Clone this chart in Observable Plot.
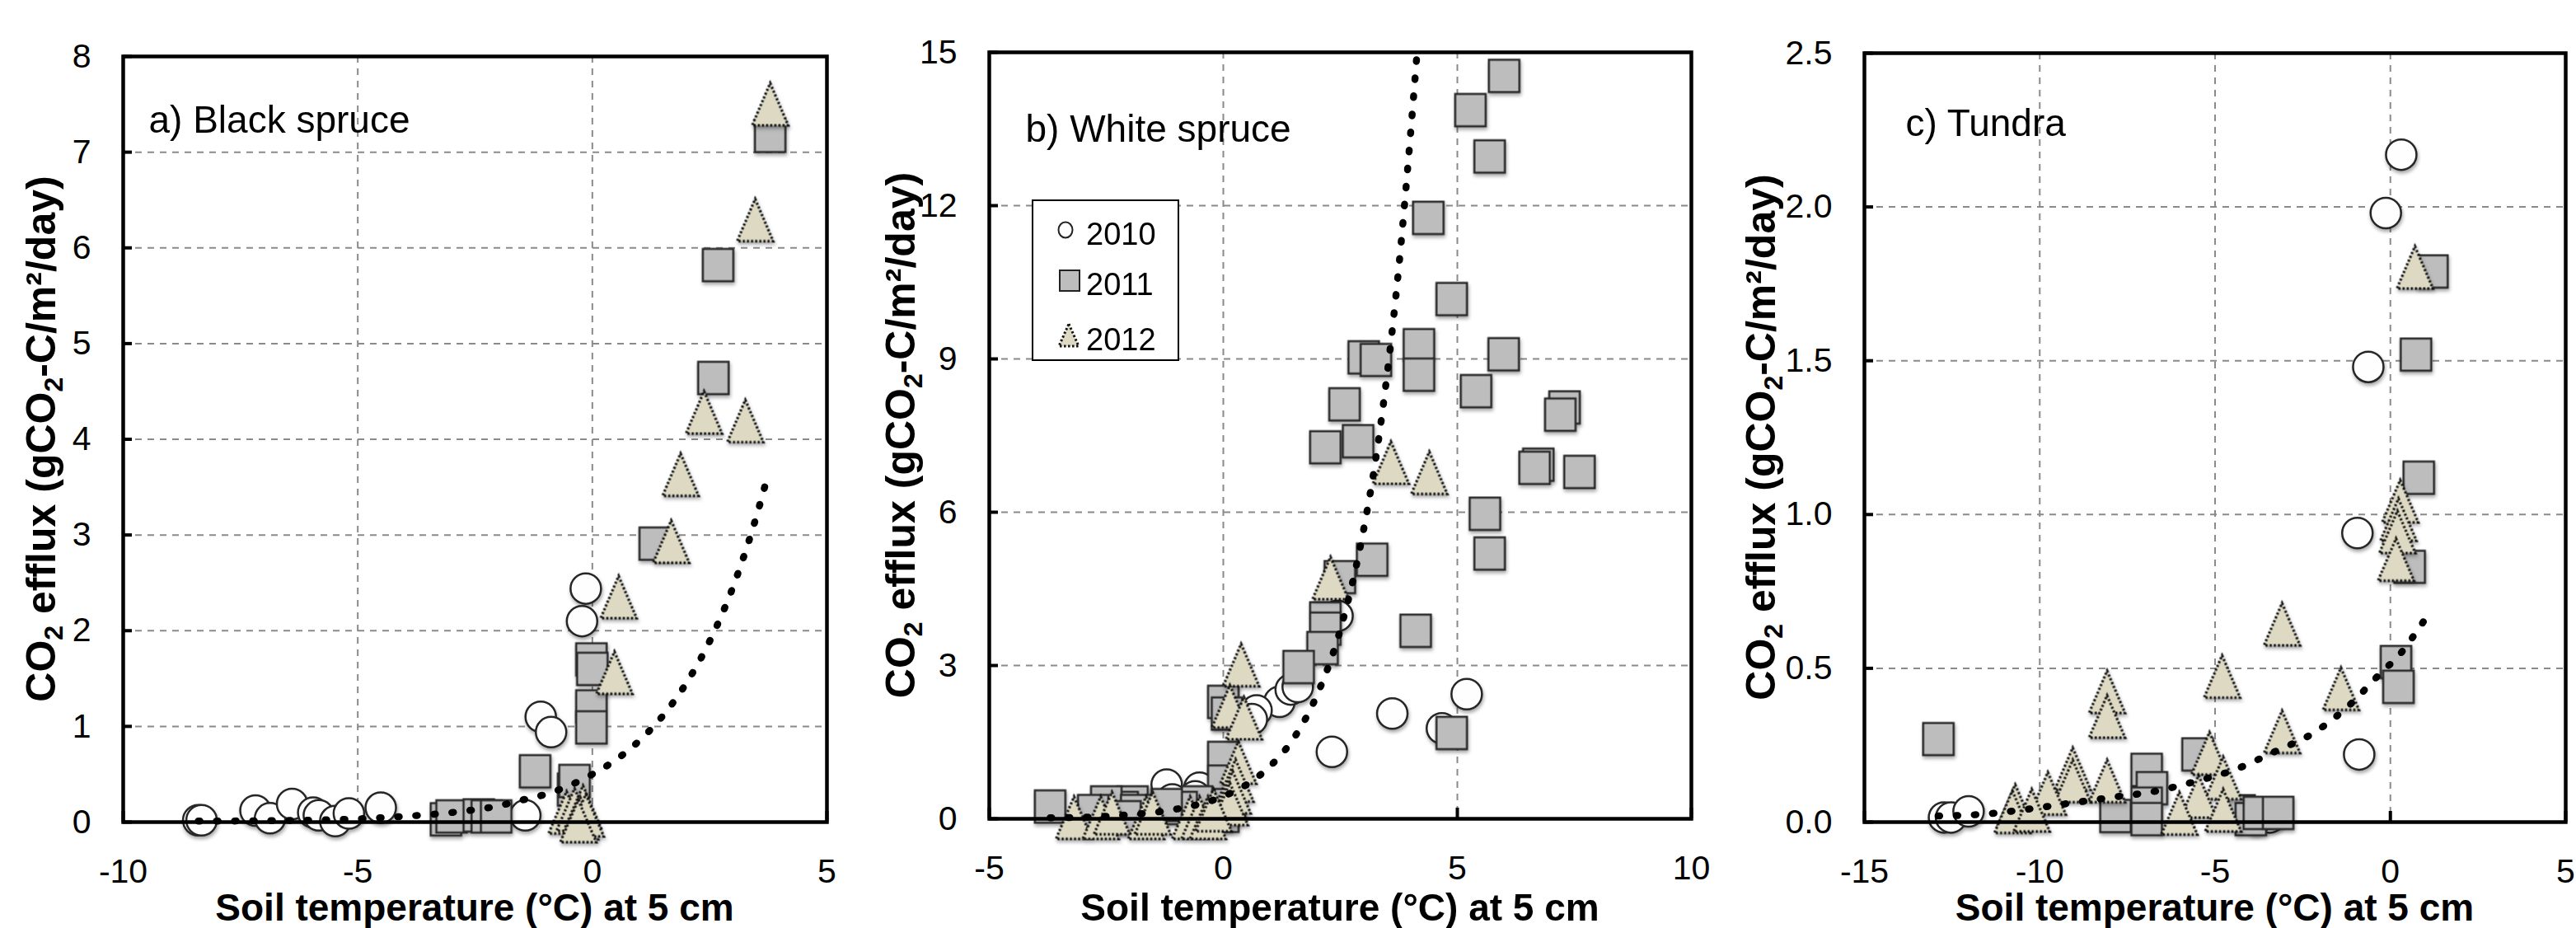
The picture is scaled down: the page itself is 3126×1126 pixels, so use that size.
<!DOCTYPE html>
<html>
<head>
<meta charset="utf-8">
<script src="https://cdn.jsdelivr.net/npm/d3@7"></script>
<script src="https://cdn.jsdelivr.net/npm/@observablehq/plot@0.6"></script>
<style>
  html, body { margin: 0; padding: 0; background: #fff; }
  #chart { position: relative; width: 3126px; height: 1126px; background: #fff; overflow: hidden; }
  .panel { position: absolute; top: 0; }
</style>
</head>
<body>
<div id="chart"></div>
<script>
// ---------------- DATA ----------------
// a) Black spruce
const a2010 = [[-8.40,0.02],[-8.33,0.02],[-7.18,0.12],[-6.87,0.04],[-6.40,0.19],[-5.95,0.10],[-5.83,0.07],[-5.48,0.01],[-5.19,0.09],[-4.51,0.15],[-1.43,0.07],[-1.10,1.10],[-0.88,0.94],[-0.14,2.44],[-0.22,2.10]];
const a2011 = [[-3.12,0.03],[-3.00,0.06],[-2.42,0.07],[-2.25,0.06],[-2.05,0.06],[-1.22,0.53],[-0.41,0.34],[-0.38,0.43],[-0.02,1.70],[0.00,1.60],[-0.02,1.21],[-0.02,0.99],[1.33,2.91],[2.58,4.64],[2.68,5.82],[3.79,7.17]];
const a2012 = [[3.79,7.49],[3.47,6.28],[2.38,4.27],[3.26,4.18],[1.88,3.62],[1.68,2.92],[0.56,2.34],[0.47,1.55],[-0.55,0.09],[-0.38,0.12],[-0.20,0.15],[-0.26,0.03],[-0.14,0.06],[-0.30,0.00]];
const aFit  = [[-8.4,0.01],[-6,0.02],[-4,0.06],[-3,0.10],[-2,0.17],[-1.5,0.23],[-1,0.29],[-0.5,0.38],[0,0.50],[0.5,0.65],[1,0.85],[1.5,1.11],[2,1.45],[2.5,1.89],[3,2.46],[3.5,3.20],[3.7,3.55]];

// b) White spruce
const b2010 = [[1.20,2.29],[1.44,2.53],[1.59,2.58],[3.61,2.06],[5.20,2.44],[4.67,1.77],[2.32,1.31],[2.44,3.97],[0.71,2.12],[0.61,1.95],[-1.21,0.67],[-0.51,0.61],[-0.60,0.44],[-1.09,0.38],[-1.27,0.27],[0.02,0.85]];
const b2011 = [[6.00,14.54],[5.28,13.87],[5.69,12.96],[4.38,11.76],[4.88,10.17],[5.99,9.09],[4.18,9.27],[4.18,8.69],[3.00,9.03],[3.26,8.98],[5.40,8.37],[7.29,8.05],[7.20,7.91],[2.59,8.11],[2.18,7.27],[2.88,7.39],[6.73,6.93],[6.65,6.87],[7.61,6.79],[5.59,5.97],[5.69,5.19],[3.18,5.07],[2.49,4.73],[2.18,3.92],[2.18,3.72],[2.12,3.34],[4.11,3.68],[1.61,2.97],[4.88,1.68],[0.00,2.29],[0.08,2.06],[0.00,1.19],[0.00,0.73],[0.14,0.27],[0.00,0.06],[-0.56,0.32],[-0.89,0.21],[-1.21,0.27],[-1.94,0.32],[-2.15,0.21],[-2.50,0.32],[-3.70,0.24],[-2.78,0.15],[-1.86,0.15],[-2.09,0.03]];
const b2012 = [[3.58,6.95],[4.40,6.75],[2.29,4.69],[0.38,2.99],[0.14,2.18],[0.44,1.95],[0.32,1.08],[0.26,0.73],[0.20,0.50],[0.14,0.27],[-3.19,0.00],[-2.62,0.00],[-2.38,0.09],[-1.65,0.00],[-1.51,0.09],[-0.71,0.00],[-0.51,0.00],[-0.33,0.00],[-0.21,0.15]];
const bFit  = [[-3.7,0.02],[-3,0.03],[-2,0.08],[-1,0.19],[0,0.44],[0.5,0.67],[1,1.03],[1.5,1.57],[2,2.42],[2.5,3.70],[3,5.67],[3.25,7.0],[3.5,8.7],[3.75,10.8],[4,13.4],[4.14,15.0]];

// c) Tundra
const c2010 = [[0.31,2.17],[-0.13,1.98],[-0.63,1.48],[-0.94,0.94],[-0.89,0.22],[-12.73,0.015],[-12.53,0.015],[-12.03,0.035],[-3.44,0.015],[-3.83,0.01]];
const c2011 = [[-12.89,0.27],[1.20,1.79],[0.73,1.52],[0.81,1.12],[0.55,0.83],[0.16,0.52],[0.23,0.44],[-5.50,0.22],[-6.95,0.17],[-6.80,0.11],[-6.95,0.06],[-7.84,0.02],[-6.95,0.01],[-4.30,0.035],[-3.98,0.01],[-3.75,0.03],[-3.20,0.03]];
const c2012 = [[0.70,1.80],[0.28,1.04],[0.23,0.98],[0.20,0.94],[0.16,0.85],[-3.09,0.64],[-4.80,0.47],[-1.41,0.43],[-8.08,0.42],[-8.08,0.34],[-3.09,0.29],[-9.06,0.17],[-9.06,0.13],[-8.08,0.13],[-9.77,0.09],[-10.70,0.05],[-10.78,0.03],[-10.23,0.035],[-5.16,0.22],[-4.77,0.14],[-5.47,0.08],[-4.77,0.035],[-6.02,0.025]];
const cFit  = [[-12.9,0.02],[-11.7,0.025],[-10.47,0.04],[-9.22,0.06],[-7.97,0.08],[-6.72,0.10],[-5.63,0.13],[-4.45,0.17],[-3.28,0.23],[-2.19,0.29],[-1.17,0.38],[-0.23,0.49],[0.23,0.54],[0.63,0.60],[1.05,0.67]];

// axis ticks & labels
const aXTicks = [-10, -5, 0, 5];
const aYTicks = [0, 1, 2, 3, 4, 5, 6, 7, 8];
const bXTicks = [-5, 0, 5, 10];
const bYTicks = [0, 3, 6, 9, 12, 15];
const cXTicks = [-15, -10, -5, 0, 5];
const cYTicks = [0, 0.5, 1, 1.5, 2, 2.5];
const panelTitles = ["a) Black spruce", "b) White spruce", "c) Tundra"];
const years = ["2010", "2011", "2012"];
const xTitle = "Soil temperature (°C) at 5 cm";

// ---------------- DRAWING ----------------
const FONT = "'Liberation Sans', Arial, Helvetica, sans-serif";
const H = 1126;

const squareSym = {draw(ctx, size) {
  const r = Math.sqrt(size / Math.PI);
  const hw = r, hh = r * 1.06;
  ctx.moveTo(-hw, -hh); ctx.lineTo(hw, -hh); ctx.lineTo(hw, hh); ctx.lineTo(-hw, hh); ctx.closePath();
}};
const triSym = {draw(ctx, size) {
  const r = Math.sqrt(size / Math.PI);
  const hw = r * 1.18, top = -r * 1.45, bot = r * 1.32;
  ctx.moveTo(0, top); ctx.lineTo(hw, bot); ctx.lineTo(-hw, bot); ctx.closePath();
}};

function panel(cfg) {
  const {left, w, ml, mr, mt, mb, xdom, ydom, xticks, yticks, yfmt, s2010, s2011, s2012, fit, title, tdx, tdy, yOff} = cfg;
  const fw = w - ml - mr, fh = H - mt - mb;
  const inner = arr => arr.slice(1, -1);
  const gridStyle = {stroke: "#8a8a8a", strokeWidth: 2, strokeDasharray: "8,7"};
  const plot = Plot.plot({
    width: w, height: H,
    marginLeft: ml, marginRight: mr, marginTop: mt, marginBottom: mb,
    x: {domain: xdom},
    y: {domain: ydom},
    style: {fontFamily: FONT, background: "white", color: "black", overflow: "visible"},
    marks: [
      Plot.ruleY(inner(yticks), gridStyle),
      Plot.ruleX(inner(xticks), gridStyle),
      Plot.tickY(yticks, {y: d => d, stroke: "black", strokeWidth: 4, insetRight: fw - 11}),
      Plot.tickX(xticks, {x: d => d, stroke: "black", strokeWidth: 4, insetTop: fh - 13}),
      Plot.axisY({ticks: yticks, tickSize: 0, tickPadding: 39, fontSize: 41, tickFormat: yfmt, label: null}),
      Plot.axisX({ticks: xticks, tickSize: 0, tickPadding: 44, fontSize: 41, tickFormat: d => String(d), label: null}),
      Plot.dot(s2010, {x: d => d[0], y: d => d[1], r: 18.5, fill: "#fefefe", stroke: "#262626", strokeWidth: 2.5}),
      Plot.dot(s2011, {x: d => d[0], y: d => d[1], r: 18.5, symbol: squareSym, fill: "#bdbdbd", stroke: "#2a2a2a", strokeWidth: 2.5}),
      Plot.dot(s2012, {x: d => d[0], y: d => d[1], r: 18.5, symbol: triSym, fill: "#ddd9c3", stroke: "#111", strokeWidth: 3.2, strokeDasharray: "2.5,2.5"}),
      Plot.line(fit, {x: d => d[0], y: d => d[1], curve: "monotone-x", stroke: "black", strokeWidth: 8.5, strokeDasharray: "2,20", strokeLinecap: "round"}),
      Plot.frame({stroke: "black", strokeWidth: 4.5}),
      Plot.text([title], {frameAnchor: "top-left", dx: tdx, dy: tdy, fontSize: 46, textAnchor: "start", lineAnchor: "middle", fill: "black"})
    ]
  });
  const svg = d3.select(plot);
  svg.selectAll("g[aria-label='dot']").style("filter", "drop-shadow(1.5px 3px 2px rgba(0,0,0,0.35))");
  // y-axis title with sub/superscripts
  const yt = svg.append("text")
    .attr("transform", `translate(${ml - yOff},${mt + fh / 2}) rotate(-90)`)
    .attr("text-anchor", "middle").attr("font-family", FONT).attr("font-weight", "bold")
    .attr("font-size", 50).attr("fill", "black");
  yt.append("tspan").text("CO");
  yt.append("tspan").attr("font-size", 32).attr("dy", 9).text("2");
  yt.append("tspan").attr("dy", -9).text(" efflux (gCO");
  yt.append("tspan").attr("font-size", 32).attr("dy", 9).text("2");
  yt.append("tspan").attr("dy", -9).text("-C/m²/day)");
  // x-axis title
  svg.append("text")
    .attr("x", ml + fw / 2).attr("y", 1117)
    .attr("text-anchor", "middle").attr("font-family", FONT).attr("font-weight", "bold")
    .attr("font-size", 46).attr("fill", "black").text(xTitle);
  const div = document.createElement("div");
  div.className = "panel";
  div.style.left = left + "px";
  div.appendChild(plot);
  document.getElementById("chart").appendChild(div);
  return svg;
}

panel({left: 0, w: 1050, ml: 149, mr: 47, mt: 68, mb: 129, xdom: [-10, 5], ydom: [0, 8],
  xticks: aXTicks, yticks: aYTicks, yfmt: d => String(d),
  s2010: a2010, s2011: a2011, s2012: a2012, fit: aFit, title: panelTitles[0], tdx: 31, tdy: 78, yOff: 82});

const svgB = panel({left: 1050, w: 1050, ml: 150, mr: 48, mt: 63, mb: 133, xdom: [-5, 10], ydom: [0, 15],
  xticks: bXTicks, yticks: bYTicks, yfmt: d => String(d),
  s2010: b2010, s2011: b2011, s2012: b2012, fit: bFit, title: panelTitles[1], tdx: 44, tdy: 94, yOff: 90});

panel({left: 2100, w: 1026, ml: 162, mr: 13, mt: 64, mb: 129, xdom: [-15, 5], ydom: [0, 2.5],
  xticks: cXTicks, yticks: cYTicks, yfmt: d => d.toFixed(1),
  s2010: c2010, s2011: c2011, s2012: c2012, fit: cFit, title: panelTitles[2], tdx: 50, tdy: 86, yOff: 108});

// legend inside panel b
const lg = svgB.append("g").attr("font-family", FONT).attr("text-anchor", "start");
lg.append("rect").attr("x", 203).attr("y", 243).attr("width", 177).attr("height", 194)
  .attr("fill", "white").attr("stroke", "black").attr("stroke-width", 2);
lg.append("ellipse").attr("cx", 243).attr("cy", 279).attr("rx", 8.5).attr("ry", 9.5)
  .attr("fill", "white").attr("stroke", "#222").attr("stroke-width", 2);
lg.append("rect").attr("x", 236).attr("y", 328).attr("width", 24).attr("height", 25)
  .attr("fill", "#bdbdbd").attr("stroke", "#222").attr("stroke-width", 2);
lg.append("path").attr("d", "M247,393 L259,420 L235,420 Z")
  .attr("fill", "#ddd9c3").attr("stroke", "#111").attr("stroke-width", 3).attr("stroke-dasharray", "2.5,2.5");
[297, 358, 425].forEach((yb, i) => {
  lg.append("text").attr("x", 268).attr("y", yb).attr("text-anchor", "start")
    .attr("font-size", 38).attr("fill", "black").text(years[i]);
});
</script>
</body>
</html>
